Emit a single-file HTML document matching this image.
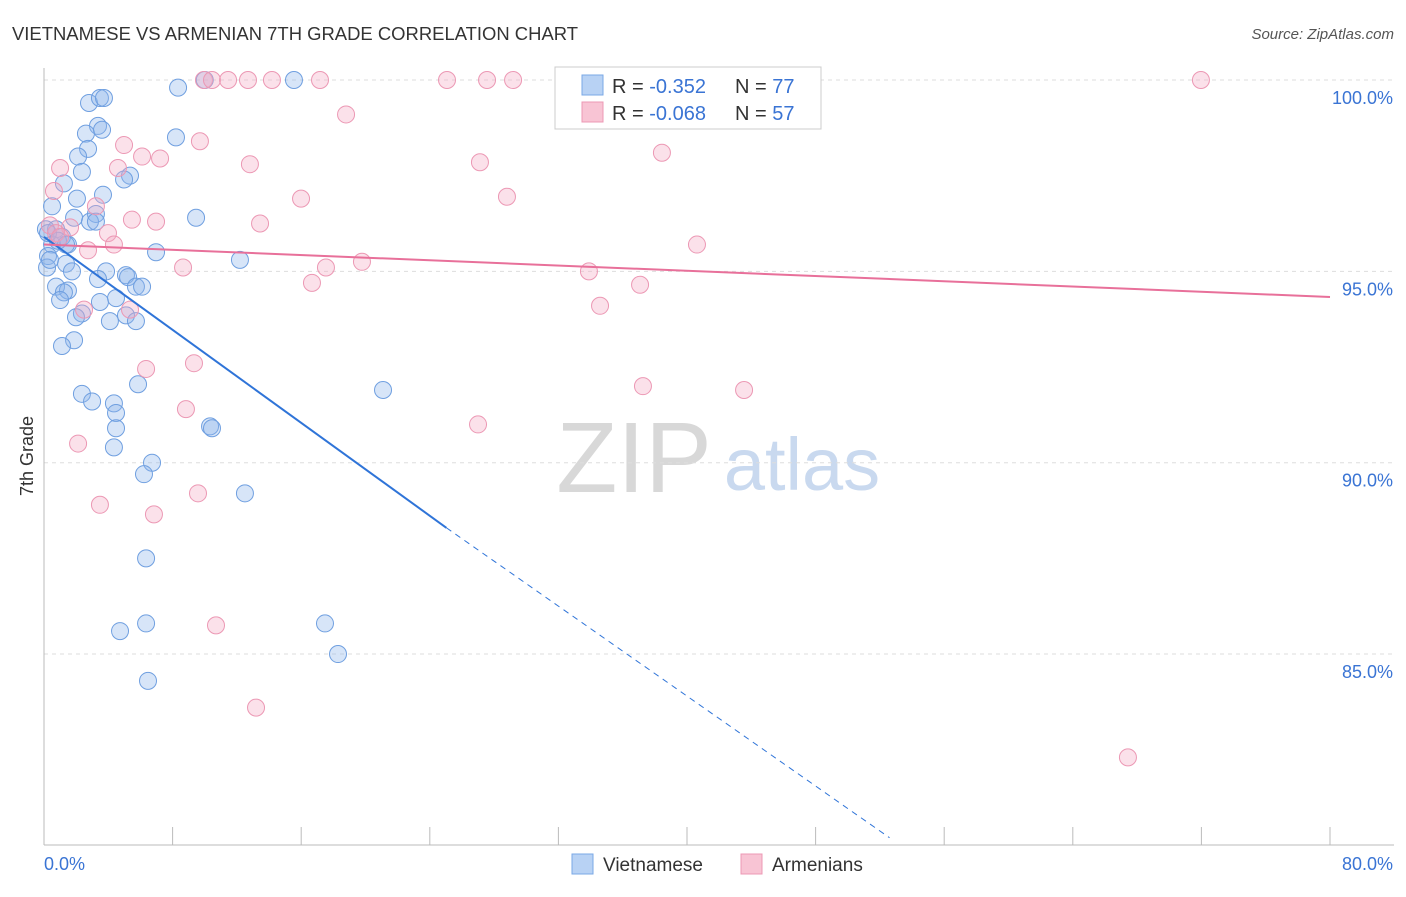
<!DOCTYPE html>
<html><head><meta charset="utf-8">
<style>
body{margin:0;background:#fff;font-family:"Liberation Sans",sans-serif;}
svg text{font-family:"Liberation Sans",sans-serif;}
</style></head>
<body>
<svg id="chart" width="1406" height="892" xmlns="http://www.w3.org/2000/svg">
<text x="12" y="40" font-size="18" fill="#333" textLength="566" lengthAdjust="spacingAndGlyphs">VIETNAMESE VS ARMENIAN 7TH GRADE CORRELATION CHART</text>
<text x="1394" y="39" font-size="15" fill="#555" font-style="italic" text-anchor="end">Source: ZipAtlas.com</text>
<g>
<text x="634" y="492" font-size="100" fill="#d8d8d8" font-family="Liberation Serif" text-anchor="middle">ZIP</text>
<text x="802" y="490" font-size="74" fill="#c9d9ef" text-anchor="middle">atlas</text>
</g>
<g id="grid"></g>
<g id="axes"></g>
<g id="points"></g>
<g id="trends"></g>
<text transform="translate(33,456) rotate(-90)" font-size="18" fill="#333" text-anchor="middle">7th Grade</text>
<g>
<rect x="555" y="67" width="266" height="62" fill="#fff" stroke="#ccc"/>
<rect x="582" y="75" width="21" height="20" fill="#b8d2f4" stroke="#7aa8e6"/>
<rect x="582" y="102" width="21" height="20" fill="#f8c4d4" stroke="#ec98b4"/>
<text x="612" y="93" font-size="20" fill="#333">R = <tspan fill="#3a74d4"> -0.352</tspan></text>
<text x="735" y="93" font-size="20" fill="#333">N = <tspan fill="#3a74d4">77</tspan></text>
<text x="612" y="120" font-size="20" fill="#333">R = <tspan fill="#3a74d4">-0.068</tspan></text>
<text x="735" y="120" font-size="20" fill="#333">N = <tspan fill="#3a74d4">57</tspan></text>
</g>
<g>
<rect x="572" y="854" width="21" height="20" fill="#b8d2f4" stroke="#7aa8e6"/>
<text x="603" y="871" font-size="19" fill="#333">Vietnamese</text>
<rect x="741" y="854" width="21" height="20" fill="#f8c4d4" stroke="#ec98b4"/>
<text x="772" y="871" font-size="19" fill="#333">Armenians</text>
</g>
</svg>
<script>
const viX=[10.0,15.55,8.34,2.8,3.48,3.73,3.36,2.61,3.61,8.21,2.74,2.12,2.36,5.35,4.98,1.24,3.67,2.05,0.5,3.23,9.46,1.87,2.86,3.23,0.75,0.12,1.12,1.49,0.5,6.97,0.25,12.19,1.37,1.74,0.19,3.86,5.1,3.36,5.23,0.75,1.49,1.24,5.72,6.1,1.0,4.48,3.48,2.36,1.99,5.1,4.1,5.72,1.87,1.12,21.09,5.85,2.36,2.99,4.35,4.48,4.48,10.33,10.45,4.35,6.72,6.22,12.5,6.35,6.35,4.73,17.48,18.29,6.47,0.25,0.87,1.37,0.37];
const viY=[100,100,99.8,99.4,99.53,99.53,98.8,98.6,98.7,98.5,98.2,98.0,97.6,97.5,97.4,97.3,97.0,96.9,96.7,96.5,96.4,96.4,96.3,96.3,96.1,96.1,95.9,95.7,95.7,95.5,95.4,95.3,95.2,95.0,95.1,95.0,94.9,94.8,94.85,94.6,94.5,94.45,94.6,94.6,94.25,94.3,94.2,93.9,93.8,93.85,93.7,93.7,93.2,93.05,91.9,92.05,91.8,91.6,91.55,91.3,90.9,90.95,90.9,90.4,90.0,89.7,89.2,87.5,85.8,85.6,85.8,85.0,84.3,96.0,95.8,95.7,95.3];
const arX=[9.95,10.45,11.45,12.69,14.18,17.17,25.07,27.56,29.18,32.85,71.97,18.79,4.98,6.1,7.22,4.6,1.0,12.81,27.12,38.44,9.7,0.62,15.99,28.8,3.23,5.47,6.97,13.44,0.37,1.62,3.98,0.75,1.0,4.35,2.74,40.62,8.65,17.54,19.78,16.67,33.9,37.08,34.59,5.35,2.49,9.33,6.35,37.26,43.55,8.83,27.0,2.12,9.58,3.48,6.84,10.7,13.19,67.43];
const arY=[100,100,100,100,100,100,100,100,100,100,100,99.1,98.3,98.0,97.95,97.7,97.7,97.8,97.85,98.1,98.4,97.1,96.9,96.95,96.7,96.35,96.3,96.25,96.2,96.15,96.0,96.0,95.9,95.7,95.55,95.7,95.1,95.1,95.25,94.7,95.0,94.65,94.1,94.0,94.0,92.6,92.45,92.0,91.9,91.4,91.0,90.5,89.2,88.9,88.65,85.75,83.6,82.3];
const yTicks=[100,95,90,85];
const yTickLabels=["100.0%","95.0%","90.0%","85.0%"];
const xTicks=[0,8,16,24,32,40,48,56,64,72,80];
const viTrend=[[0,95.9],[25.03,88.3]];
const viTrendDash=[[25.03,88.3],[52.6,80.2]];
const arTrend=[[0,95.7],[80,94.33]];

const NS="http://www.w3.org/2000/svg";
const X=v=>44+v*16.075;
const Y=v=>80+(100-v)*38.27;
function mk(tag,attrs,parent){const e=document.createElementNS(NS,tag);for(const k in attrs)e.setAttribute(k,attrs[k]);parent.appendChild(e);return e;}
const grid=document.getElementById('grid'),axes=document.getElementById('axes'),pts=document.getElementById('points'),tr=document.getElementById('trends');
yTicks.forEach((t,i)=>{
  const l=mk('line',{x1:44,x2:1394,y1:Y(t),y2:Y(t),stroke:'#ddd','stroke-dasharray':'4,4'},grid);
  
  
  const tx=mk('text',{x:1393,y:Y(t)+24,'font-size':18,fill:'#3a74d4','text-anchor':'end'},grid);
  tx.textContent=yTickLabels[i];
  
  
});
const ax=mk('line',{x1:44,x2:1394,y1:845,y2:845,stroke:'#bbb'},axes);


const ay=mk('line',{x1:44,x2:44,y1:68,y2:845,stroke:'#bbb'},axes);


xTicks.forEach(t=>{
  const l=mk('line',{x1:X(t),x2:X(t),y1:827,y2:845,stroke:'#bbb'},axes);
  
  
});
const xl0=mk('text',{x:44,y:870,'font-size':18,fill:'#3a74d4'},axes);xl0.textContent='0.0%';


const xl1=mk('text',{x:1393,y:870,'font-size':18,fill:'#3a74d4','text-anchor':'end'},axes);xl1.textContent='80.0%';


viX.forEach((v,i)=>{
  const c=mk('circle',{cx:X(v),cy:Y(viY[i]),r:8.5,fill:'rgba(140,180,235,0.35)',stroke:'#6f9fe0','stroke-width':1},pts);
  
  
});
arX.forEach((v,i)=>{
  const c=mk('circle',{cx:X(v),cy:Y(arY[i]),r:8.5,fill:'rgba(244,170,195,0.35)',stroke:'#ec98b4','stroke-width':1},pts);
  
  
});
const l1=mk('line',{x1:X(viTrend[0][0]),y1:Y(viTrend[0][1]),x2:X(viTrend[1][0]),y2:Y(viTrend[1][1]),stroke:'#2f74d8','stroke-width':2},tr);


const l2=mk('line',{x1:X(viTrendDash[0][0]),y1:Y(viTrendDash[0][1]),x2:X(viTrendDash[1][0]),y2:Y(viTrendDash[1][1]),stroke:'#2f74d8','stroke-width':1,'stroke-dasharray':'6,5'},tr);


const l3=mk('line',{x1:X(arTrend[0][0]),y1:Y(arTrend[0][1]),x2:X(arTrend[1][0]),y2:Y(arTrend[1][1]),stroke:'#e8709a','stroke-width':2},tr);


</script>
</body></html>
